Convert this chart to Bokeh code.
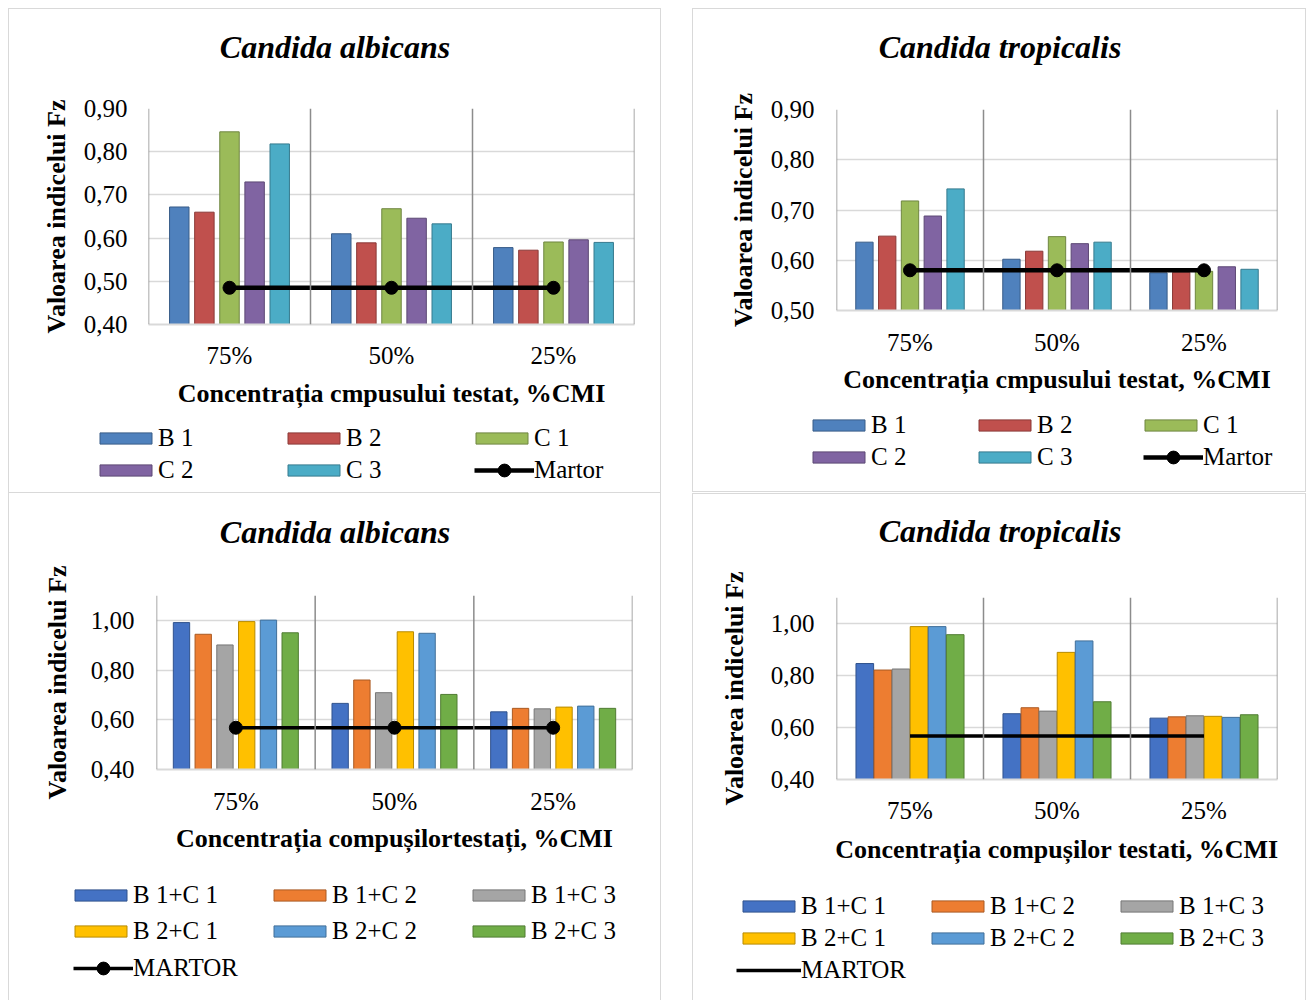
from bokeh.plotting import figure
from bokeh.models import (ColumnDataSource, FactorRange, Range1d, FixedTicker, Label,
                          CustomJSTickFormatter, Legend, LegendItem, Span, Spacer)
from bokeh.transform import dodge
from bokeh.layouts import column, row
from bokeh.embed import file_html
from bokeh.resources import INLINE

categories = ["75%", "50%", "25%"]

# Candida albicans - single compounds
a_names = ["B 1", "B 2", "C 1", "C 2", "C 3"]
a_B1 = [0.672, 0.610, 0.578]
a_B2 = [0.660, 0.589, 0.572]
a_C1 = [0.846, 0.668, 0.591]
a_C2 = [0.730, 0.646, 0.596]
a_C3 = [0.818, 0.633, 0.590]
a_martor = [0.485, 0.485, 0.485]

# Candida tropicalis - single compounds
t_names = ["B 1", "B 2", "C 1", "C 2", "C 3"]
t_B1 = [0.636, 0.602, 0.575]
t_B2 = [0.648, 0.618, 0.576]
t_C1 = [0.718, 0.647, 0.578]
t_C2 = [0.688, 0.633, 0.587]
t_C3 = [0.742, 0.636, 0.582]
t_martor = [0.580, 0.580, 0.580]

# Candida albicans - combinations
ac_names = ["B 1+C 1", "B 1+C 2", "B 1+C 3", "B 2+C 1", "B 2+C 2", "B 2+C 3"]
ac_B1C1 = [0.991, 0.666, 0.632]
ac_B1C2 = [0.944, 0.760, 0.646]
ac_B1C3 = [0.901, 0.709, 0.644]
ac_B2C1 = [0.995, 0.954, 0.651]
ac_B2C2 = [1.001, 0.948, 0.655]
ac_B2C3 = [0.950, 0.702, 0.646]
ac_martor = [0.568, 0.568, 0.568]

# Candida tropicalis - combinations
tc_names = ["B 1+C 1", "B 1+C 2", "B 1+C 3", "B 2+C 1", "B 2+C 2", "B 2+C 3"]
tc_B1C1 = [0.846, 0.653, 0.636]
tc_B1C2 = [0.821, 0.676, 0.641]
tc_B1C3 = [0.825, 0.663, 0.645]
tc_B2C1 = [0.988, 0.889, 0.643]
tc_B2C2 = [0.988, 0.933, 0.639]
tc_B2C3 = [0.957, 0.699, 0.649]
tc_martor = [0.567, 0.567, 0.567]

colors5 = ["#4F81BD", "#C0504D", "#9BBB59", "#8064A2", "#4BACC6"]
colors6 = ["#4472C4", "#ED7D31", "#A5A5A5", "#FFC000", "#5B9BD5", "#70AD47"]

FONT = "Liberation Serif"
BORDER = "1.5px solid #d9d9d9"


def darker(h, f=0.72):
    h = h.lstrip("#")
    r, g, b = (int(h[i:i + 2], 16) for i in (0, 2, 4))
    return "#%02x%02x%02x" % (int(r * f), int(g * f), int(b * f))


def blank_fig(width, height, sides, x_range=None, y_range=None):
    f = figure(width=width, height=height,
               x_range=x_range if x_range is not None else Range1d(0, 1),
               y_range=y_range if y_range is not None else Range1d(0, 1),
               x_axis_type=None, y_axis_type=None, output_backend="svg",
               toolbar_location=None, title=None, min_border=0)
    f.grid.visible = False
    f.outline_line_color = None
    f.background_fill_color = "white"
    f.border_fill_color = "white"
    st = {"box-sizing": "border-box"}
    for s in sides:
        st["border-" + s] = BORDER
    f.styles = st
    return f


def legend_box(items, loc, gw, gh, spacing, lwidth, ncols):
    return Legend(items=items, location=loc, ncols=ncols,
                  orientation="horizontal", padding=0, margin=0,
                  border_line_color=None, background_fill_alpha=0,
                  glyph_width=gw, glyph_height=gh, label_standoff=0,
                  label_height=28, spacing=spacing, label_width=lwidth,
                  label_text_font=FONT, label_text_font_size="25px",
                  label_text_color="black")


def make_panel(cfg):
    names, series, colors = cfg["names"], cfg["series"], cfg["colors"]
    data = {"cat": categories, "martor": cfg["martor"]}
    for i, s in enumerate(series):
        data["s%d" % i] = s
    src = ColumnDataSource(data)

    # title strip
    tf = blank_fig(cfg["width"], 70, ["top", "left", "right"])
    tf.add_layout(Label(x=cfg["tx"], y=cfg["ty"], x_units="screen", y_units="screen",
                        text=cfg["title"], text_align="center", text_baseline="middle",
                        text_font=FONT, text_font_size="32px",
                        text_font_style="bold italic", text_color="black"))

    p = figure(width=cfg["width"], height=cfg["h_main"],
               x_range=FactorRange(*categories, range_padding=0),
               y_range=Range1d(cfg["ymin"], cfg["ymax"]),
               output_backend="svg", toolbar_location=None, title=None,
               min_border_left=cfg["mb"][0], min_border_right=cfg["mb"][1],
               min_border_top=cfg["mb"][2], min_border_bottom=cfg["mb"][3])
    p.outline_line_color = None
    p.background_fill_color = "white"
    p.border_fill_color = "white"
    p.styles = {"border-left": BORDER, "border-right": BORDER, "box-sizing": "border-box"}

    p.xgrid.grid_line_color = None
    p.ygrid.grid_line_color = "#d9d9d9"
    p.ygrid.grid_line_width = 1.5
    p.yaxis.ticker = FixedTicker(ticks=cfg["yticks"])
    p.yaxis.formatter = CustomJSTickFormatter(code="return tick.toFixed(2).replace('.', ',')")
    for ax in (p.xaxis[0], p.yaxis[0]):
        ax.major_tick_in = 0
        ax.major_tick_out = 0
        ax.minor_tick_in = 0
        ax.minor_tick_out = 0
        ax.major_label_text_font = FONT
        ax.major_label_text_font_size = "25px"
        ax.major_label_text_color = "black"
        ax.axis_label_text_font = FONT
        ax.axis_label_text_font_size = "26px"
        ax.axis_label_text_font_style = "bold"
        ax.axis_label_text_color = "black"
    p.yaxis.axis_line_color = None
    p.xaxis.axis_line_color = "#d9d9d9"
    p.xaxis.axis_line_width = 2
    p.yaxis.major_label_standoff = cfg["ystand"]
    p.yaxis.axis_label_standoff = cfg["ylstand"]
    p.xaxis.major_label_standoff = cfg["xstand"]
    p.xaxis.axis_label_standoff = cfg["xlstand"]
    p.yaxis.axis_label = "Valoarea indicelui Fz"
    p.xaxis.axis_label = cfg["xlabel"]

    for loc in range(len(categories) + 1):
        p.add_layout(Span(location=loc, dimension="height",
                          line_color="#8c8c8c", line_width=1.5))

    n = len(series)
    for i in range(n):
        off = (i - (n - 1) / 2.0) * cfg["pitch"]
        p.vbar(x=dodge("cat", off, range=p.x_range), top="s%d" % i,
               bottom=cfg["ymin"] - 1, width=cfg["bw"], source=src,
               fill_color=colors[i], line_color=darker(colors[i]), line_width=1)

    p.line(x="cat", y="martor", source=src, line_color="black", line_width=cfg["mlw"])
    if cfg["markers"]:
        p.scatter(x="cat", y="martor", source=src, size=13,
                  fill_color="black", line_color="black")

    # legend strip (its proxy glyphs use the same data, kept out of view)
    sides = ["left", "right"] + (["bottom"] if cfg["bottom_border"] else [])
    lf = blank_fig(cfg["width"], cfg["h_leg"], sides,
                   x_range=FactorRange(*categories), y_range=Range1d(5, 6))
    items = []
    for i in range(n):
        r = lf.vbar(x="cat", top="s%d" % i, width=0.1, source=src,
                    fill_color=colors[i], line_color=darker(colors[i]), line_width=1)
        items.append(LegendItem(label=names[i], renderers=[r]))
    mr = [lf.line(x="cat", y="martor", source=src, line_color="black",
                  line_width=cfg["mlw"])]
    if cfg["markers"]:
        mr.append(lf.scatter(x="cat", y="martor", source=src, size=13,
                             fill_color="black", line_color="black"))
        m_item = LegendItem(label=cfg["mlabel"], renderers=mr)
        lf.add_layout(legend_box([m_item], cfg["mloc"], 60, 32, 0, 100, 1), "center")
    else:
        items.append(LegendItem(label=cfg["mlabel"], renderers=mr))

    lf.add_layout(legend_box(items, cfg["legloc"], 65, 14, cfg["lspacing"],
                             cfg["lwidth"], 3), "center")
    return column(row(tf), row(p), row(lf))


p1 = make_panel(dict(
    title="Candida albicans", names=a_names,
    series=[a_B1, a_B2, a_C1, a_C2, a_C3], colors=colors5, martor=a_martor,
    mlabel="Martor", markers=True, mlw=4.5,
    width=653, h_main=336, h_leg=78, mb=(139, 28, 30, 90),
    bottom_border=False, tx=325.5, ty=33,
    ymin=0.40, ymax=0.90, yticks=[0.40, 0.50, 0.60, 0.70, 0.80, 0.90],
    pitch=0.155, bw=0.12, ystand=21, ylstand=10, xstand=17, xlstand=7,
    xlabel="Concentrația cmpusului testat, %CMI",
    legloc=(84, 8), mloc=(465, 6), lspacing=4, lwidth=119))

p2 = make_panel(dict(
    title="Candida tropicalis", names=t_names,
    series=[t_B1, t_B2, t_C1, t_C2, t_C3], colors=colors5, martor=t_martor,
    mlabel="Martor", markers=True, mlw=4.5,
    width=614, h_main=323, h_leg=91, mb=(143, 30, 31, 91),
    bottom_border=True, tx=306.5, ty=33,
    ymin=0.50, ymax=0.90, yticks=[0.50, 0.60, 0.70, 0.80, 0.90],
    pitch=0.155, bw=0.118, ystand=22, ylstand=10, xstand=18, xlstand=6,
    xlabel="Concentrația cmpusului testat, %CMI",
    legloc=(113, 21), mloc=(450, 19), lspacing=4, lwidth=97))

p3 = make_panel(dict(
    title="Candida albicans", names=ac_names,
    series=[ac_B1C1, ac_B1C2, ac_B1C3, ac_B2C1, ac_B2C2, ac_B2C3], colors=colors6,
    martor=ac_martor, mlabel="MARTOR", markers=True, mlw=3.5,
    width=653, h_main=309, h_leg=129, mb=(147, 30, 33, 102),
    bottom_border=False, tx=325.5, ty=32,
    ymin=0.40, ymax=1.10, yticks=[0.40, 0.60, 0.80, 1.00],
    pitch=0.137, bw=0.103, ystand=22, ylstand=16, xstand=18, xlstand=6,
    xlabel="Concentrația compușilortestați, %CMI",
    legloc=(59, 19 + 36), mloc=(64, 16), lspacing=8, lwidth=126))

p4 = make_panel(dict(
    title="Candida tropicalis", names=tc_names,
    series=[tc_B1C1, tc_B1C2, tc_B1C3, tc_B2C1, tc_B2C2, tc_B2C3], colors=colors6,
    martor=tc_martor, mlabel="MARTOR", markers=False, mlw=3.5,
    width=614, h_main=319, h_leg=118, mb=(143, 30, 34, 103),
    bottom_border=False, tx=306.5, ty=34,
    ymin=0.40, ymax=1.10, yticks=[0.40, 0.60, 0.80, 1.00],
    pitch=0.123, bw=0.12, ystand=22, ylstand=19, xstand=17, xlstand=8,
    xlabel="Concentrația compușilor testati, %CMI",
    legloc=(43, 16), mloc=None, lspacing=4, lwidth=120))

left = column(p1, p3)
right = column(p2, Spacer(width=10, height=1), p4)
layout = column(
    Spacer(width=10, height=8),
    row(Spacer(width=8, height=10), left, Spacer(width=31, height=10), right),
)

open("out.html", "w").write(file_html(layout, INLINE))
